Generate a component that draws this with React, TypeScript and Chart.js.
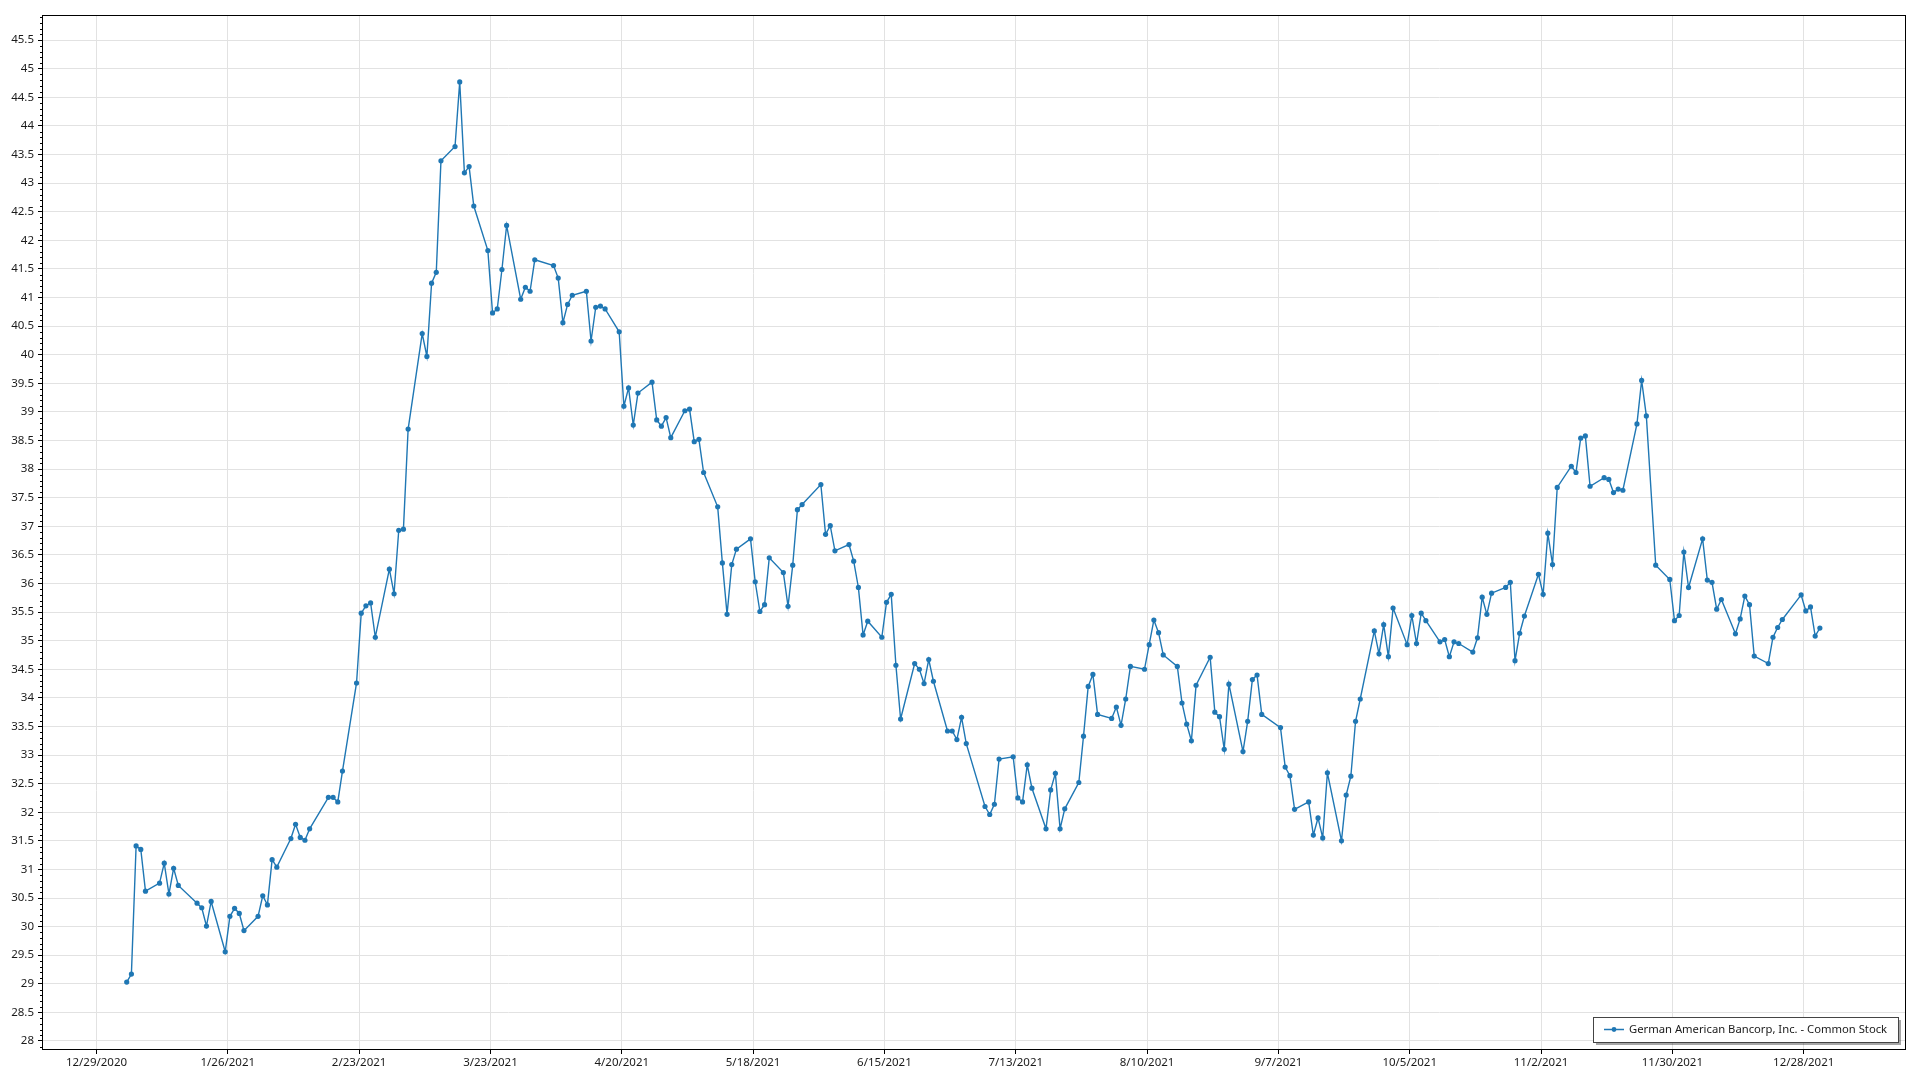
import React, { useEffect, useRef } from "react";
import { Chart, registerables } from "chart.js";

Chart.register(...registerables);

const SERIES_LABEL = "German American Bancorp, Inc. - Common Stock";
const LINE_COLOR = "#1f77b4";

// x axis: days counted from 12/29/2020, one labelled tick every 28 days
const X_TICK_LABELS = [
  "12/29/2020", "1/26/2021", "2/23/2021", "3/23/2021", "4/20/2021", "5/18/2021", "6/15/2021",
  "7/13/2021", "8/10/2021", "9/7/2021", "10/5/2021", "11/2/2021", "11/30/2021", "12/28/2021",
];
const X_TICK_STEP_DAYS = 28;
const X_MIN_DAYS = -11.4;
const X_MAX_DAYS = 385.6;
// quotes are stamped during the trading day, not at midnight
const QUOTE_TIME_OF_DAY = 0.45;

const Y_MIN = 27.86;
const Y_MAX = 45.94;
const Y_TICK_FIRST = 28;
const Y_TICK_LAST = 45.5;
const Y_TICK_STEP = 0.5;

// trading days (day of month) and closing prices, month by month, 2021
const JAN_DAYS = [4, 5, 6, 7, 8, 11, 12, 13, 14, 15, 19, 20, 21, 22, 25, 26, 27, 28, 29];
const JAN_PRICES = [29.03, 29.17, 31.41, 31.35, 30.62, 30.76, 31.11, 30.57, 31.02, 30.72, 30.41, 30.33, 30.01, 30.44, 29.56, 30.18, 30.32, 30.23, 29.93];

const FEB_DAYS = [1, 2, 3, 4, 5, 8, 9, 10, 11, 12, 16, 17, 18, 19, 22, 23, 24, 25, 26];
const FEB_PRICES = [30.18, 30.54, 30.38, 31.17, 31.04, 31.54, 31.79, 31.56, 31.51, 31.71, 32.26, 32.26, 32.18, 32.72, 34.26, 35.48, 35.61, 35.66, 35.06];

const MAR_DAYS = [1, 2, 3, 4, 5, 8, 9, 10, 11, 12, 15, 16, 17, 18, 19, 22, 23, 24, 25, 26, 29, 30, 31];
const MAR_PRICES = [36.25, 35.82, 36.93, 36.95, 38.7, 40.37, 39.97, 41.25, 41.44, 43.39, 43.64, 44.77, 43.18, 43.29, 42.6, 41.82, 40.73, 40.8, 41.49, 42.26, 40.97, 41.18, 41.11];

const APR_DAYS = [1, 5, 6, 7, 8, 9, 12, 13, 14, 15, 16, 19, 20, 21, 22, 23, 26, 27, 28, 29, 30];
const APR_PRICES = [41.66, 41.56, 41.34, 40.56, 40.88, 41.04, 41.11, 40.24, 40.83, 40.85, 40.8, 40.4, 39.1, 39.42, 38.77, 39.33, 39.52, 38.86, 38.75, 38.9, 38.55];

const MAY_DAYS = [3, 4, 5, 6, 7, 10, 11, 12, 13, 14, 17, 18, 19, 20, 21, 24, 25, 26, 27, 28];
const MAY_PRICES = [39.02, 39.05, 38.48, 38.52, 37.94, 37.34, 36.36, 35.46, 36.33, 36.6, 36.78, 36.03, 35.51, 35.63, 36.45, 36.19, 35.6, 36.32, 37.29, 37.38];

const JUN_DAYS = [1, 2, 3, 4, 7, 8, 9, 10, 11, 14, 15, 16, 17, 18, 21, 22, 23, 24, 25, 28, 29, 30];
const JUN_PRICES = [37.73, 36.86, 37.01, 36.57, 36.68, 36.39, 35.93, 35.1, 35.34, 35.06, 35.67, 35.81, 34.57, 33.63, 34.6, 34.5, 34.25, 34.67, 34.29, 33.42, 33.42, 33.27];

const JUL_DAYS = [1, 2, 6, 7, 8, 9, 12, 13, 14, 15, 16, 19, 20, 21, 22, 23, 26, 27, 28, 29, 30];
const JUL_PRICES = [33.66, 33.2, 32.1, 31.96, 32.14, 32.93, 32.97, 32.25, 32.18, 32.83, 32.42, 31.71, 32.39, 32.68, 31.71, 32.06, 32.52, 33.33, 34.2, 34.41, 33.71];

const AUG_DAYS = [2, 3, 4, 5, 6, 9, 10, 11, 12, 13, 16, 17, 18, 19, 20, 23, 24, 25, 26, 27, 30, 31];
const AUG_PRICES = [33.64, 33.84, 33.52, 33.98, 34.55, 34.5, 34.93, 35.36, 35.14, 34.75, 34.55, 33.91, 33.54, 33.25, 34.22, 34.71, 33.75, 33.67, 33.1, 34.24, 33.06, 33.59];

const SEP_DAYS = [1, 2, 3, 7, 8, 9, 10, 13, 14, 15, 16, 17, 20, 21, 22, 23, 24, 27, 28, 29, 30];
const SEP_PRICES = [34.32, 34.4, 33.71, 33.48, 32.79, 32.64, 32.05, 32.18, 31.6, 31.9, 31.55, 32.69, 31.5, 32.3, 32.63, 33.59, 33.98, 35.17, 34.77, 35.28, 34.72];

const OCT_DAYS = [1, 4, 5, 6, 7, 8, 11, 12, 13, 14, 15, 18, 19, 20, 21, 22, 25, 26, 27, 28, 29];
const OCT_PRICES = [35.57, 34.93, 35.44, 34.95, 35.48, 35.35, 34.98, 35.02, 34.72, 34.98, 34.95, 34.8, 35.05, 35.76, 35.46, 35.83, 35.93, 36.02, 34.65, 35.13, 35.43];

const NOV_DAYS = [1, 2, 3, 4, 5, 8, 9, 10, 11, 12, 15, 16, 17, 18, 19, 22, 23, 24, 26, 29, 30];
const NOV_PRICES = [36.16, 35.81, 36.88, 36.33, 37.68, 38.05, 37.94, 38.54, 38.58, 37.7, 37.85, 37.82, 37.59, 37.65, 37.63, 38.79, 39.55, 38.93, 36.32, 36.07, 35.35];

const DEC_DAYS = [1, 2, 3, 6, 7, 8, 9, 10, 13, 14, 15, 16, 17, 20, 21, 22, 23, 27, 28, 29, 30, 31];
const DEC_PRICES = [35.44, 36.55, 35.93, 36.78, 36.06, 36.02, 35.55, 35.72, 35.12, 35.38, 35.78, 35.63, 34.73, 34.6, 35.06, 35.23, 35.37, 35.8, 35.52, 35.59, 35.08, 35.22];

const MONTHS: [number[], number[]][] = [
  [JAN_DAYS, JAN_PRICES], [FEB_DAYS, FEB_PRICES], [MAR_DAYS, MAR_PRICES], [APR_DAYS, APR_PRICES],
  [MAY_DAYS, MAY_PRICES], [JUN_DAYS, JUN_PRICES], [JUL_DAYS, JUL_PRICES], [AUG_DAYS, AUG_PRICES],
  [SEP_DAYS, SEP_PRICES], [OCT_DAYS, OCT_PRICES], [NOV_DAYS, NOV_PRICES], [DEC_DAYS, DEC_PRICES],
];

const ORIGIN = Date.UTC(2020, 11, 29);
const DAY_MS = 86400000;

function buildPoints() {
  const pts: { x: number; y: number }[] = [];
  MONTHS.forEach(([days, prices], m) => {
    days.forEach((d, i) => {
      pts.push({ x: (Date.UTC(2021, m, d) - ORIGIN) / DAY_MS + QUOTE_TIME_OF_DAY, y: prices[i] });
    });
  });
  return pts;
}

const FONT = { family: "'Segoe UI', 'Noto Sans', sans-serif", size: 11.5 };
const LEGEND_FONT_SIZE = 11.25;
const TEXT_COLOR = "#1a1a1a";
const GRID_COLOR = "#e2e2e2";

const framePlugin = {
  id: "frameAndLegend",
  afterDraw(chart: any) {
    const { ctx, chartArea: a, scales } = chart;
    const y = scales.y;
    ctx.save();
    // minor y ticks
    ctx.strokeStyle = "#000";
    ctx.lineWidth = 1;
    ctx.beginPath();
    for (let i = Math.ceil(Y_MIN * 10); i <= Math.floor(Y_MAX * 10); i++) {
      if (i % 5 === 0) continue;
      const py = Math.round(y.getPixelForValue(i / 10)) + 0.5;
      ctx.moveTo(a.left - 3, py);
      ctx.lineTo(a.left, py);
    }
    ctx.stroke();
    // frame
    ctx.strokeRect(a.left - 0.5, a.top + 0.5, a.right - a.left + 1, a.bottom - a.top);

    // legend box (bottom right, inside plot)
    const label = chart.data.datasets[0].label;
    ctx.font = `${LEGEND_FONT_SIZE}px ${FONT.family}`;
    const tw = ctx.measureText(label).width;
    const h = 25;
    const w = Math.round(tw + 47);
    const right = a.right - 7;
    const bottom = a.bottom - 7;
    const left = right - w;
    const top = bottom - h;
    ctx.fillStyle = "rgba(0,0,0,0.35)";
    ctx.fillRect(left + 3, top + 3, w, h);
    ctx.fillStyle = "#fff";
    ctx.fillRect(left, top, w, h);
    ctx.strokeStyle = "#444";
    ctx.lineWidth = 1;
    ctx.strokeRect(left + 0.5, top + 0.5, w, h);
    const cy = top + h / 2;
    ctx.strokeStyle = LINE_COLOR;
    ctx.lineWidth = 1.5;
    ctx.beginPath();
    ctx.moveTo(left + 11, cy);
    ctx.lineTo(left + 31, cy);
    ctx.stroke();
    ctx.fillStyle = LINE_COLOR;
    ctx.beginPath();
    ctx.arc(left + 21, cy, 2.4, 0, Math.PI * 2);
    ctx.fill();
    ctx.fillStyle = TEXT_COLOR;
    ctx.textBaseline = "middle";
    ctx.textAlign = "left";
    ctx.fillText(label, left + 36, cy);
    ctx.restore();
  },
};

export default function App() {
  const ref = useRef<HTMLCanvasElement | null>(null);

  useEffect(() => {
    if (!ref.current) return;
    const chart = new Chart(ref.current, {
      type: "line",
      data: {
        datasets: [
          {
            label: SERIES_LABEL,
            data: buildPoints(),
            borderColor: LINE_COLOR,
            backgroundColor: LINE_COLOR,
            borderWidth: 1.4,
            pointRadius: 2.6,
            pointBorderWidth: 0,
            pointBackgroundColor: LINE_COLOR,
            tension: 0,
            fill: false,
          },
        ],
      },
      options: {
        animation: false,
        responsive: false,
        devicePixelRatio: 1,
        parsing: false,
        layout: { padding: { top: 15, right: 15, left: 0, bottom: 0 } },
        plugins: {
          legend: { display: false },
          tooltip: { enabled: false },
        },
        scales: {
          x: {
            type: "linear",
            min: X_MIN_DAYS,
            max: X_MAX_DAYS,
            border: { display: false },
            grid: { color: GRID_COLOR, tickColor: "#000", tickLength: 5, lineWidth: 1 },
            afterBuildTicks: (scale: any) => {
              scale.ticks = X_TICK_LABELS.map((_, i) => ({ value: i * X_TICK_STEP_DAYS }));
            },
            afterFit: (scale: any) => {
              scale.height = 31;
            },
            ticks: {
              autoSkip: false,
              maxRotation: 0,
              padding: 2,
              color: TEXT_COLOR,
              font: FONT,
              callback: (_v: any, i: number) => X_TICK_LABELS[i],
            },
          },
          y: {
            type: "linear",
            min: Y_MIN,
            max: Y_MAX,
            border: { display: false },
            grid: { color: GRID_COLOR, tickColor: "#000", tickLength: 5, lineWidth: 1 },
            afterBuildTicks: (scale: any) => {
              const t: { value: number }[] = [];
              const n = Math.round((Y_TICK_LAST - Y_TICK_FIRST) / Y_TICK_STEP);
              for (let i = 0; i <= n; i++) t.push({ value: Y_TICK_FIRST + i * Y_TICK_STEP });
              scale.ticks = t;
            },
            afterFit: (scale: any) => {
              scale.width = 43;
            },
            ticks: {
              autoSkip: false,
              padding: 4,
              color: TEXT_COLOR,
              font: FONT,
              callback: (v: any) => {
                const num = Number(v);
                return Number.isInteger(num) ? String(num) : num.toFixed(1);
              },
            },
          },
        },
      } as any,
      plugins: [framePlugin],
    });
    return () => chart.destroy();
  }, []);

  return (
    <div style={{ position: "fixed", left: 0, top: 0, width: 1920, height: 1080, background: "#fff" }}>
      <canvas ref={ref} width={1920} height={1080} style={{ display: "block" }} />
    </div>
  );
}
